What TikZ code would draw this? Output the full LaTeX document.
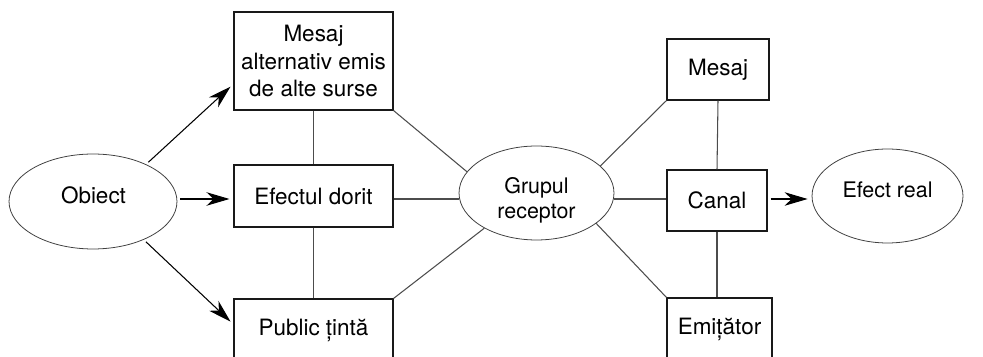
\documentclass[tikz,border=0pt]{standalone}
\usepackage{fontspec}
\setmainfont{TeX Gyre Heros}
\usetikzlibrary{shapes.geometric,arrows.meta}

\begin{document}
\begin{tikzpicture}[x=0.02cm, y=-0.02cm,
  box/.style={draw=black!90, line width=0.6pt, align=center, inner sep=0pt, font=\fontsize{12.8}{15.6}\selectfont},
  oval/.style={draw=black!75, line width=0.45pt, ellipse, inner sep=0pt, minimum height=1.88cm},
  ovaltext/.style={align=center, font=\fontsize{12.2}{14.2}\selectfont},
  link/.style={draw=black!70, line width=0.6pt},
  flow/.style={line width=0.6pt, -{Stealth[length=4.6mm, width=2.7mm, inset=1.4mm]}, shorten <=0.6mm, shorten >=0.8mm}]
\useasboundingbox (0,0) rectangle (983,357);
\coordinate (axis) at (0,199);

% Left side
\node[oval, minimum width=3.36cm, minimum height=1.9cm] (obj) at (93,201.5) {};
\node[ovaltext, font=\fontsize{12.8}{15.6}\selectfont] (objtext) at (93.5,195) {Obiect};

\node[box, minimum width=3.18cm, minimum height=1.96cm] (msgalt) at (313.5,61) {Mesaj\\alternativ emis\\de alte surse};
\node[box, minimum width=3.18cm, minimum height=1.24cm] (dorit) at (313.5,196) {Efectul dorit};
\node[box, minimum width=3.18cm, minimum height=1.24cm] (public) at (313.5,330) {Public țintă};

% Centre
\node[oval, minimum width=3.1cm] (grup) at (536.5,193) {};
\node[ovaltext] (gruptext) at (536.5,200) {Grupul\\receptor};

% Right side
\node[box, minimum width=2.04cm, minimum height=1.22cm] (mesaj) at (718,69.5) {Mesaj};
\node[box, minimum width=2.0cm, minimum height=1.22cm] (canal) at (717,200.5) {Canal};
\node[box, minimum width=2.1cm, minimum height=1.24cm] (emit) at (719.5,329) {Emițător};
\node[oval, minimum width=3.02cm] (efreal) at (887.5,196) {};
\node[ovaltext] (efrealtext) at (887.5,189.5) {Efect real};

% Arrows from the object
\draw[flow] (obj.35) -- (msgalt.196);
\draw[flow] (obj.east |- axis) -- (dorit.west |- axis);
\draw[flow] (obj.323) -- (public.176);

% Links
\draw[link] (msgalt.south) -- (dorit.north);
\draw[link] (dorit.south) -- (public.north);
\draw[link] (dorit.east |- axis) -- (grup.west |- axis);
\draw[link] (msgalt.south east) -- (grup.163);
\draw[link] (public.north east) -- (grup.214);
\draw[link] (grup.23) -- (mesaj.south west);
\draw[link] (grup.east |- axis) -- (canal.west |- axis);
\draw[link] (grup.333) -- (emit.north west);
\draw[link] (mesaj.south) -- (canal.north);
\draw[link] (canal.south) -- (canal.south |- emit.north);

\draw[flow] (canal.east |- axis) -- (efreal.west |- axis);
\end{tikzpicture}
\end{document}
